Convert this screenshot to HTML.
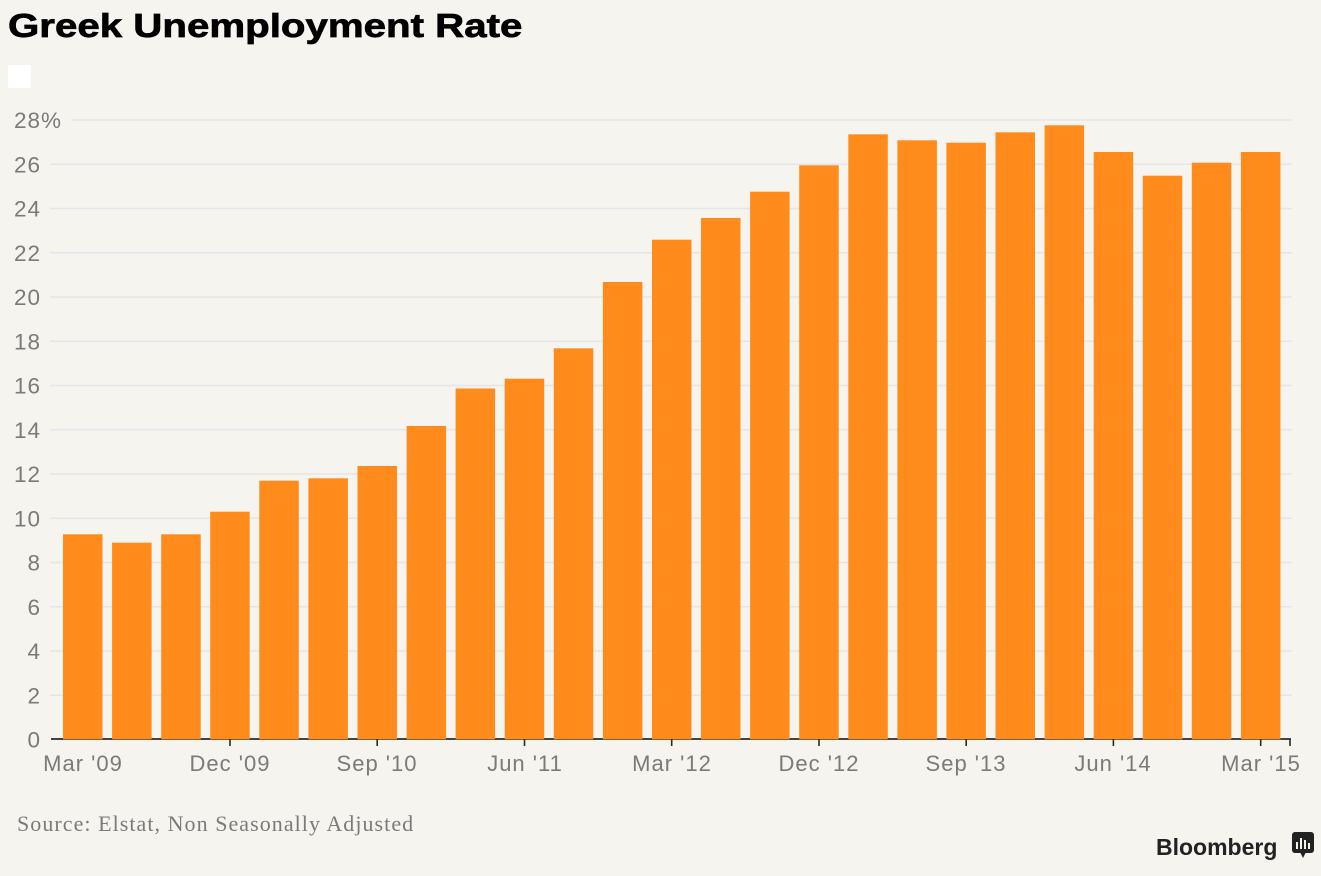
<!DOCTYPE html>
<html>
<head>
<meta charset="utf-8">
<style>
  html, body { margin:0; padding:0; background:#F6F4EE; }
  body { width:1321px; height:876px; overflow:hidden; position:relative; }
  svg { position:absolute; left:0; top:0; }
</style>
</head>
<body>
<svg width="1321" height="876" viewBox="0 0 1321 876" xmlns="http://www.w3.org/2000/svg">
  <rect x="0" y="0" width="1321" height="876" fill="#F6F4EE"/>

  <!-- Title -->
  <text x="8" y="37" font-family="Liberation Sans, Arial, sans-serif" font-weight="bold" font-size="33" fill="#000" stroke="#000" stroke-width="0.7" transform="translate(8 0) scale(1.22 1) translate(-8 0)">Greek Unemployment Rate</text>

  <!-- legend square -->
  <rect x="8" y="65" width="23" height="23" rx="2" fill="#FFFFFF"/>

  <!-- gridlines -->
  <g stroke="#E5E4EA" stroke-width="1.5">
    <line x1="72" y1="120" x2="1292" y2="120"/>
    <line x1="50" y1="164.3" x2="1292" y2="164.3"/>
    <line x1="50" y1="208.5" x2="1292" y2="208.5"/>
    <line x1="50" y1="252.8" x2="1292" y2="252.8"/>
    <line x1="50" y1="297" x2="1292" y2="297"/>
    <line x1="50" y1="341.3" x2="1292" y2="341.3"/>
    <line x1="50" y1="385.5" x2="1292" y2="385.5"/>
    <line x1="50" y1="429.8" x2="1292" y2="429.8"/>
    <line x1="50" y1="474" x2="1292" y2="474"/>
    <line x1="50" y1="518.3" x2="1292" y2="518.3"/>
    <line x1="50" y1="562.5" x2="1292" y2="562.5"/>
    <line x1="50" y1="606.8" x2="1292" y2="606.8"/>
    <line x1="50" y1="651" x2="1292" y2="651"/>
    <line x1="50" y1="695.3" x2="1292" y2="695.3"/>
  </g>

  <!-- y labels -->
  <g font-family="Liberation Sans, Arial, sans-serif" font-size="22.5" fill="#7A7A7A" text-anchor="end" letter-spacing="1">
    <text x="41" y="128">28</text>
    <text x="41" y="172.3">26</text>
    <text x="41" y="216.5">24</text>
    <text x="41" y="260.8">22</text>
    <text x="41" y="305">20</text>
    <text x="41" y="349.3">18</text>
    <text x="41" y="393.5">16</text>
    <text x="41" y="437.8">14</text>
    <text x="41" y="482">12</text>
    <text x="41" y="526.3">10</text>
    <text x="41" y="570.5">8</text>
    <text x="41" y="614.8">6</text>
    <text x="41" y="659">4</text>
    <text x="41" y="703.3">2</text>
    <text x="41" y="747.5">0</text>
  </g>
  <text x="41" y="128" font-family="Liberation Sans, Arial, sans-serif" font-size="22.5" fill="#7A7A7A">%</text>

  <!-- axis line -->
  <line x1="51" y1="739" x2="1291" y2="739" stroke="#2A2A2A" stroke-width="1.8"/>

  <!-- bars -->
  <g fill="#FF8B1C">
    <rect x="63.0" y="534.3" width="39.5" height="205"/>
    <rect x="112.1" y="542.7" width="39.5" height="196.6"/>
    <rect x="161.2" y="534.3" width="39.5" height="205"/>
    <rect x="210.2" y="511.7" width="39.5" height="227.6"/>
    <rect x="259.3" y="480.7" width="39.5" height="258.6"/>
    <rect x="308.4" y="478.3" width="39.5" height="261"/>
    <rect x="357.5" y="466" width="39.5" height="273.3"/>
    <rect x="406.6" y="426" width="39.5" height="313.3"/>
    <rect x="455.6" y="388.5" width="39.5" height="350.8"/>
    <rect x="504.7" y="378.7" width="39.5" height="360.6"/>
    <rect x="553.8" y="348.3" width="39.5" height="391"/>
    <rect x="602.9" y="282" width="39.5" height="457.3"/>
    <rect x="652.0" y="239.7" width="39.5" height="499.6"/>
    <rect x="701.0" y="218" width="39.5" height="521.3"/>
    <rect x="750.1" y="191.7" width="39.5" height="547.6"/>
    <rect x="799.2" y="165.3" width="39.5" height="574"/>
    <rect x="848.3" y="134.3" width="39.5" height="605"/>
    <rect x="897.4" y="140.3" width="39.5" height="599"/>
    <rect x="946.4" y="142.7" width="39.5" height="596.6"/>
    <rect x="995.5" y="132.3" width="39.5" height="607"/>
    <rect x="1044.6" y="125.3" width="39.5" height="614"/>
    <rect x="1093.7" y="152" width="39.5" height="587.3"/>
    <rect x="1142.8" y="175.7" width="39.5" height="563.6"/>
    <rect x="1191.8" y="162.7" width="39.5" height="576.6"/>
    <rect x="1240.9" y="152" width="39.5" height="587.3"/>
  </g>

  <!-- ticks -->
  <g stroke="#2A2A2A" stroke-width="1.6">
    <line x1="230" y1="739" x2="230" y2="746"/>
    <line x1="377.2" y1="739" x2="377.2" y2="746"/>
    <line x1="524.5" y1="739" x2="524.5" y2="746"/>
    <line x1="671.7" y1="739" x2="671.7" y2="746"/>
    <line x1="819" y1="739" x2="819" y2="746"/>
    <line x1="966.2" y1="739" x2="966.2" y2="746"/>
    <line x1="1113.4" y1="739" x2="1113.4" y2="746"/>
    <line x1="1260.7" y1="739" x2="1260.7" y2="746"/>
    <line x1="1290" y1="739" x2="1290" y2="746"/>
  </g>

  <!-- x labels -->
  <g font-family="Liberation Sans, Arial, sans-serif" font-size="22" fill="#7A7A7A" text-anchor="middle" letter-spacing="1">
    <text x="83" y="771">Mar '09</text>
    <text x="230" y="771">Dec '09</text>
    <text x="377" y="771">Sep '10</text>
    <text x="525" y="771">Jun '11</text>
    <text x="672" y="771">Mar '12</text>
    <text x="819" y="771">Dec '12</text>
    <text x="966" y="771">Sep '13</text>
    <text x="1113" y="771">Jun '14</text>
    <text x="1261" y="771">Mar '15</text>
  </g>

  <!-- source -->
  <text x="17" y="831" font-family="Liberation Serif, Georgia, serif" font-size="22" fill="#7A7A7A" letter-spacing="1.05">Source: Elstat, Non Seasonally Adjusted</text>

  <!-- Bloomberg logo -->
  <text x="1156" y="855" font-family="Liberation Sans, Arial, sans-serif" font-weight="bold" font-size="23" fill="#222" letter-spacing="0">Bloomberg</text>
  <rect x="1292" y="832" width="22" height="21" rx="3" fill="#222"/>
  <polygon points="1300,852 1306,852 1303,858" fill="#222"/>
  <g fill="#F6F4EE">
    <rect x="1296" y="842" width="2" height="7"/>
    <rect x="1300" y="838" width="2" height="11"/>
    <rect x="1304" y="840" width="2" height="9"/>
    <rect x="1308" y="843" width="2" height="6"/>
  </g>
</svg>
</body>
</html>
